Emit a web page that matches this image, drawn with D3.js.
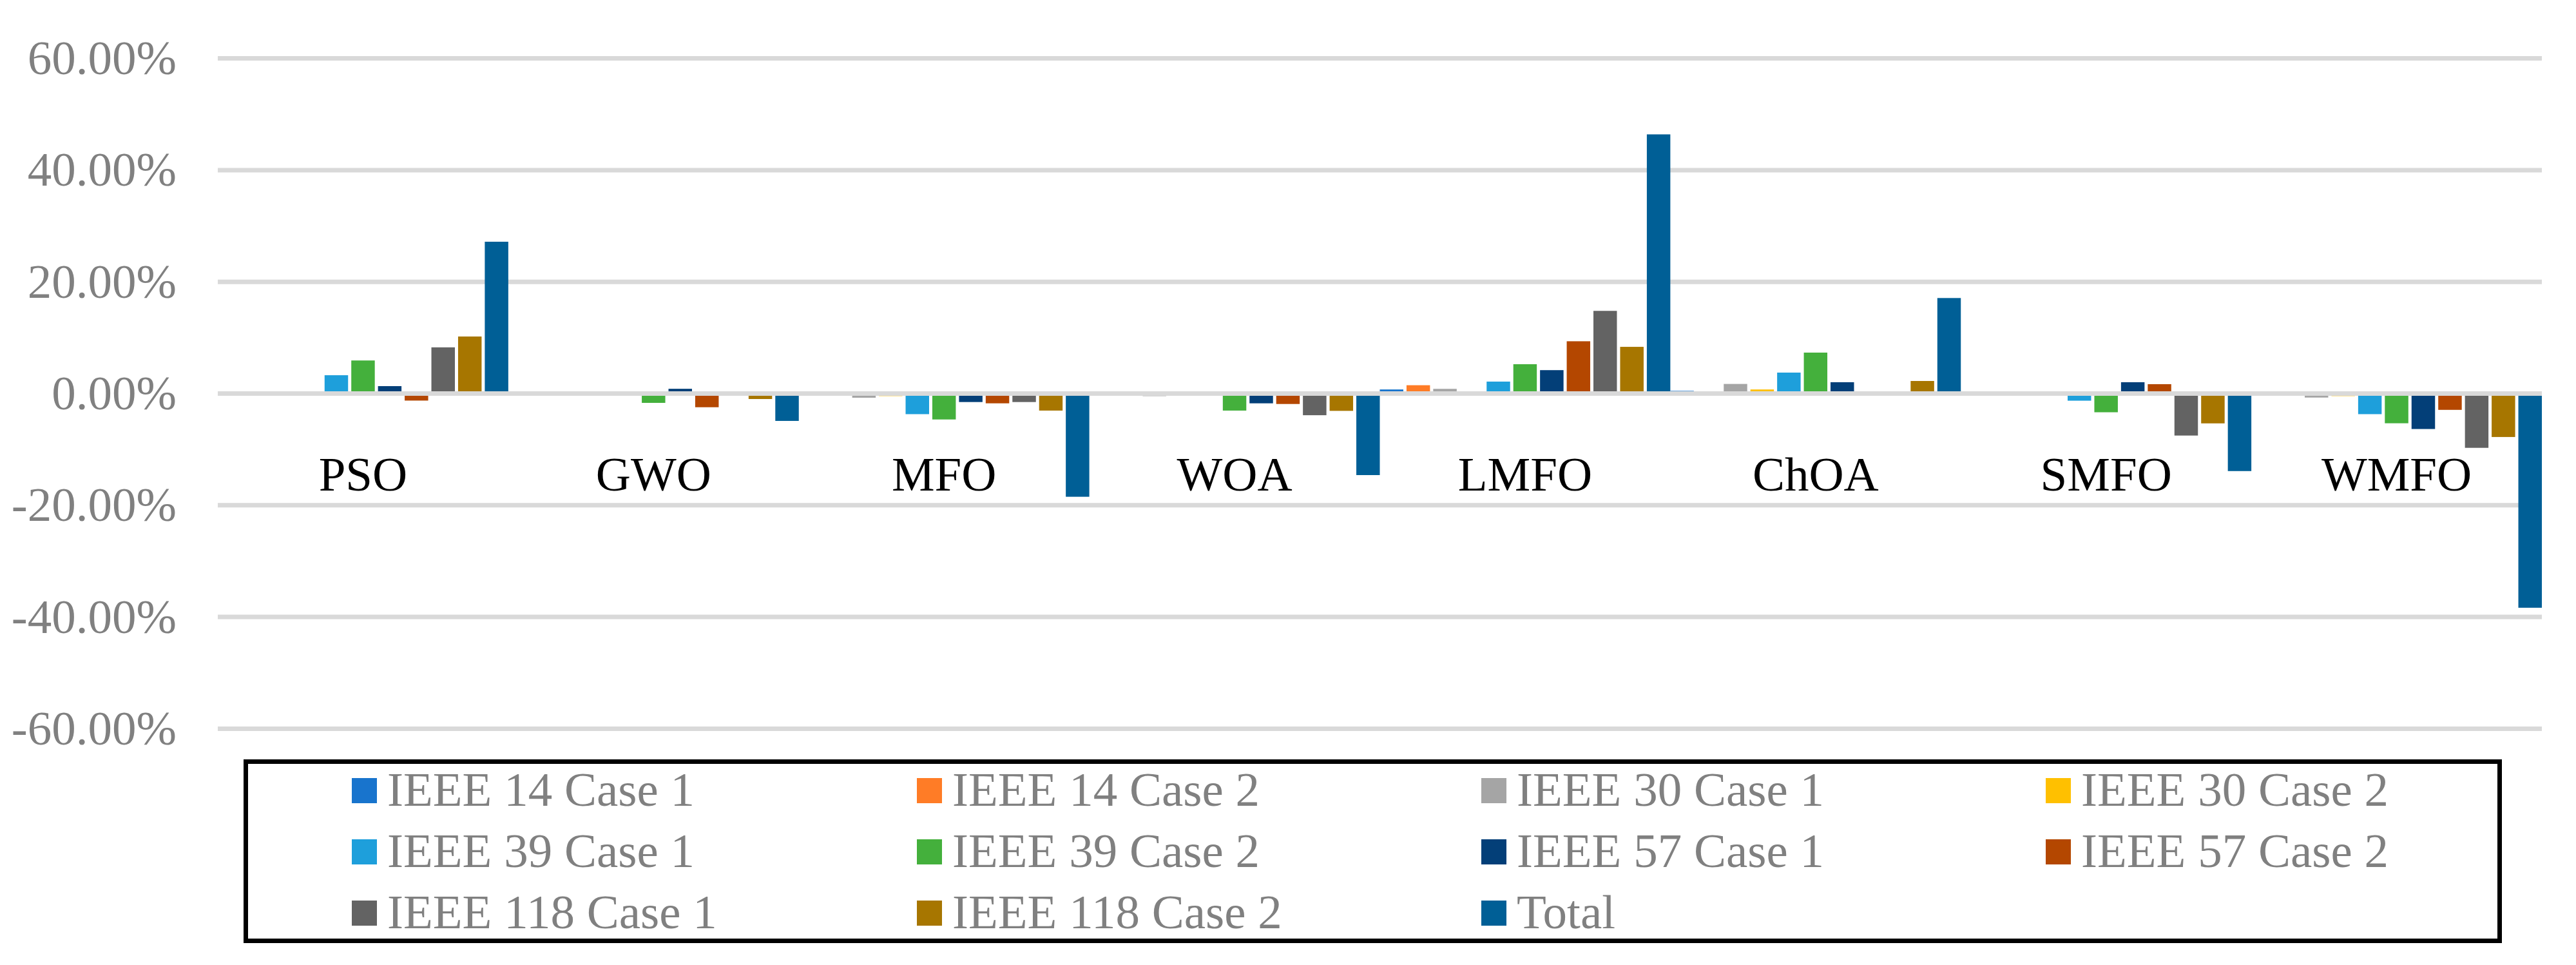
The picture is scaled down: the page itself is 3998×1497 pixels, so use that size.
<!DOCTYPE html>
<html>
<head>
<meta charset="utf-8">
<script src="https://cdn.jsdelivr.net/npm/d3@7"></script>
<style>
  html, body { margin: 0; padding: 0; background: #ffffff; }
  svg { display: block; }
  text { font-family: "Times New Roman", "Liberation Serif", serif; }
</style>
</head>
<body>
<svg id="chart" width="3998" height="1497"></svg>
<script>
// ---------- DATA ----------
const categories = ["PSO", "GWO", "MFO", "WOA", "LMFO", "ChOA", "SMFO", "WMFO"];
const seriesNames = ["IEEE 14 Case 1", "IEEE 14 Case 2", "IEEE 30 Case 1", "IEEE 30 Case 2",
  "IEEE 39 Case 1", "IEEE 39 Case 2", "IEEE 57 Case 1", "IEEE 57 Case 2",
  "IEEE 118 Case 1", "IEEE 118 Case 2", "Total"];
const seriesColors = ["#1874cd", "#ff7c26", "#a5a5a5", "#ffc000", "#1e9fdb", "#44b03c",
  "#033f78", "#b44700", "#636363", "#a77600", "#005f96"];

// values in percent, one array per series, ordered like categories
const ieee14Case1  = [0,     0,     0,      0,      0.73,  0.48,  0,      0];
const ieee14Case2  = [0,     0,     0,      0,      1.49,  0,     0,      0];
const ieee30Case1  = [0,     0,    -0.75,  -0.46,   0.84,  1.72,  0,     -0.72];
const ieee30Case2  = [0,     0,    -0.45,   0,      0,     0.73,  0,     -0.45];
const ieee39Case1  = [3.28,  0,    -3.69,   0,      2.14,  3.75, -1.28,  -3.69];
const ieee39Case2  = [5.92, -1.67, -4.64,  -3.05,   5.25,  7.33, -3.35,  -5.32];
const ieee57Case1  = [1.33,  0.85, -1.52,  -1.75,   4.19,  2.03,  2.03,  -6.35];
const ieee57Case2  = [-1.26,-2.45, -1.75,  -1.87,   9.36,  0,     1.68,  -2.92];
const ieee118Case1 = [8.27,  0,    -1.52,  -3.88,  14.8,   0,    -7.52,  -9.72];
const ieee118Case2 = [10.21,-0.98, -3.05,  -3.1,    8.36,  2.25, -5.34,  -7.78];
const totalValues  = [27.18,-4.9, -18.48, -14.6,   46.4,  17.1, -13.88, -38.35];

const seriesValues = [ieee14Case1, ieee14Case2, ieee30Case1, ieee30Case2, ieee39Case1,
  ieee39Case2, ieee57Case1, ieee57Case2, ieee118Case1, ieee118Case2, totalValues];

const yTicks = [-60, -40, -20, 0, 20, 40, 60];

// ---------- LAYOUT ----------
const svg = d3.select("#chart");
svg.append("rect").attr("width", 3998).attr("height", 1497).attr("fill", "#ffffff");

const plotLeft = 338, plotRight = 3945;
const yTop = 90.6, yBottom = 1130.4;

const x0 = d3.scaleBand().domain(categories).range([plotLeft, plotRight]).paddingInner(0).paddingOuter(0);
const x1 = d3.scaleBand().domain(d3.range(seriesNames.length)).range([0, x0.bandwidth()])
  .paddingInner(0.12).paddingOuter(0);
const y = d3.scaleLinear().domain([-60, 60]).range([yBottom, yTop]);

const gridColor = "#d9d9d9";

// gridlines (behind bars), excluding zero
svg.append("g").selectAll("line")
  .data(yTicks.filter(t => t !== 0))
  .join("line")
  .attr("x1", plotLeft).attr("x2", plotRight)
  .attr("y1", d => y(d)).attr("y2", d => y(d))
  .attr("stroke", gridColor).attr("stroke-width", 7);

// y axis labels
const yAxis = d3.axisLeft(y).tickValues(yTicks).tickSize(0).tickPadding(64)
  .tickFormat(d => (d < 0 ? "-" : "") + Math.abs(d).toFixed(2) + "%");
const yg = svg.append("g").attr("transform", `translate(${plotLeft},0)`).call(yAxis);
yg.select(".domain").remove();
yg.selectAll("text")
  .attr("fill", "#808080")
  .attr("font-size", 75)
  .attr("font-family", "'Times New Roman', 'Liberation Serif', serif");

// bars
const groups = svg.append("g").selectAll("g")
  .data(categories)
  .join("g")
  .attr("transform", d => `translate(${x0(d)},0)`);

groups.selectAll("rect")
  .data((cat, ci) => seriesValues.map((vals, si) => ({ si, v: vals[ci] })))
  .join("rect")
  .attr("x", d => x1(d.si))
  .attr("width", x1.bandwidth())
  .attr("y", d => y(Math.max(0, d.v)))
  .attr("height", d => Math.abs(y(d.v) - y(0)))
  .attr("fill", d => seriesColors[d.si]);

// zero axis line on top of bars
svg.append("line")
  .attr("x1", plotLeft).attr("x2", plotRight)
  .attr("y1", y(0)).attr("y2", y(0))
  .attr("stroke", gridColor).attr("stroke-width", 7);

// category labels
svg.append("g").selectAll("text")
  .data(categories)
  .join("text")
  .attr("x", d => x0(d) + x0.bandwidth() / 2)
  .attr("y", y(0) + 150)
  .attr("text-anchor", "middle")
  .attr("font-size", 75)
  .attr("fill", "#000000")
  .text(d => d);

// legend
svg.append("rect")
  .attr("x", 381.5).attr("y", 1181.5)
  .attr("width", 3498).attr("height", 278)
  .attr("fill", "none").attr("stroke", "#000000").attr("stroke-width", 7);

const legendColX = [546, 1423, 2299, 3175];
const legendRowY = [1207, 1302, 1397];
const legendItems = svg.append("g").selectAll("g")
  .data(seriesNames)
  .join("g")
  .attr("transform", (d, i) => `translate(${legendColX[i % 4]},${legendRowY[Math.floor(i / 4)]})`);
legendItems.append("rect")
  .attr("width", 39).attr("height", 39)
  .attr("fill", (d, i) => seriesColors[i]);
legendItems.append("text")
  .attr("x", 55).attr("y", 43)
  .attr("font-size", 75)
  .attr("fill", "#808080")
  .text(d => d);
</script>
</body>
</html>
